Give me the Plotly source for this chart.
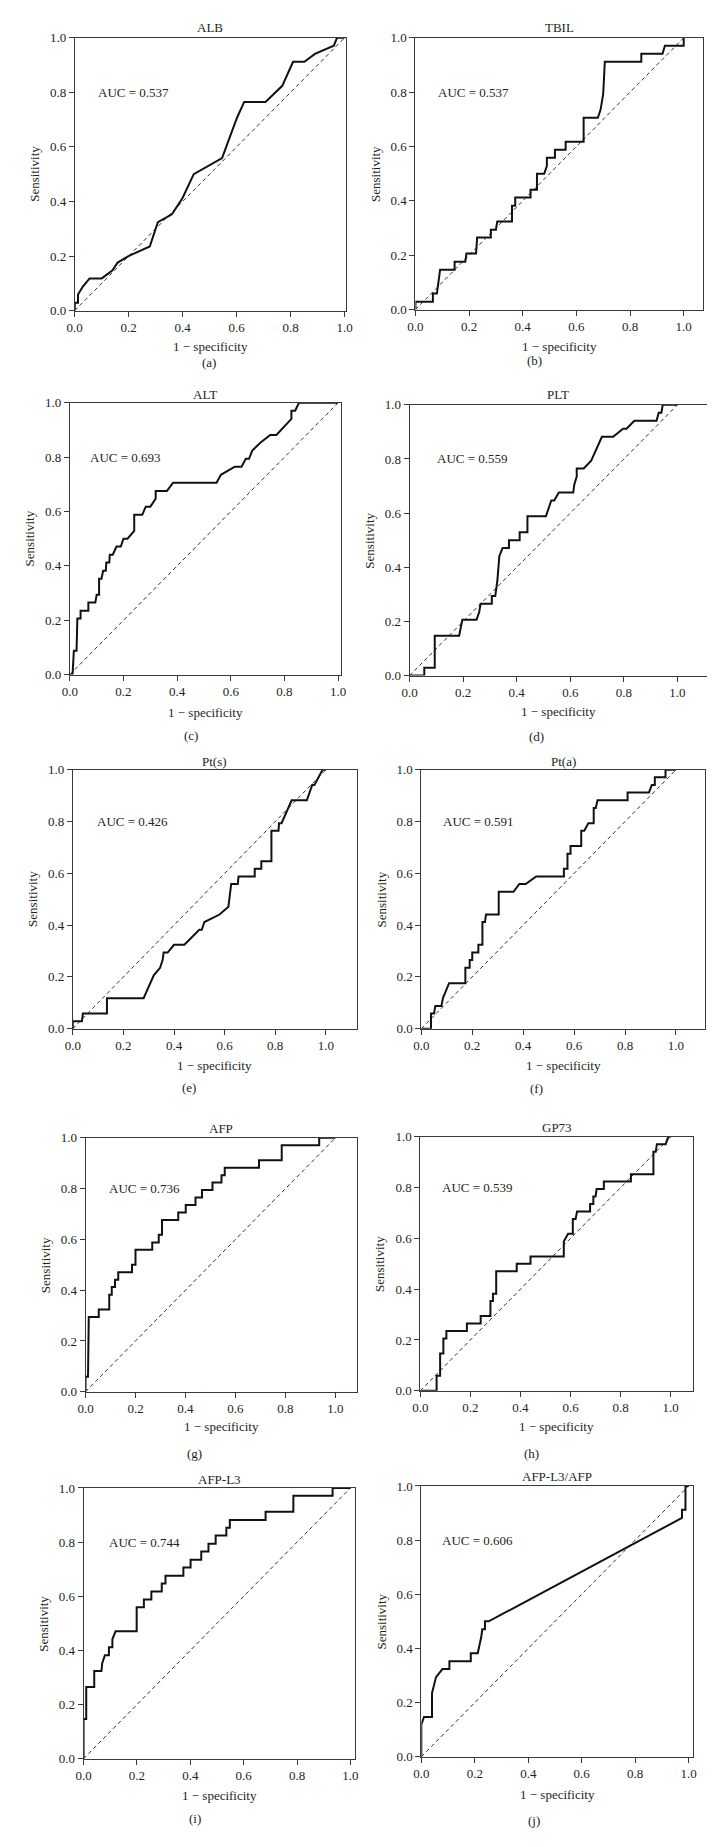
import plotly.graph_objects as go

# ---------------------------------------------------------------------------
# Data
# ---------------------------------------------------------------------------

TITLES = ["ALB", "TBIL", "ALT", "PLT", "Pt(s)", "Pt(a)", "AFP", "GP73", "AFP-L3", "AFP-L3/AFP"]
TAGS = ["(a)", "(b)", "(c)", "(d)", "(e)", "(f)", "(g)", "(h)", "(i)", "(j)"]
AUC = [0.537, 0.537, 0.693, 0.559, 0.426, 0.591, 0.736, 0.539, 0.744, 0.606]
TICKS = [0.0, 0.2, 0.4, 0.6, 0.8, 1.0]
TICK_TEXT = ["0.0", "0.2", "0.4", "0.6", "0.8", "1.0"]

ALB_FPR = [0, 0, 0.012, 0.012, 0.03, 0.055, 0.1, 0.139, 0.159, 0.199, 0.278, 0.308, 0.36,
           0.399, 0.441, 0.546, 0.601, 0.628, 0.707, 0.769, 0.809, 0.851, 0.89, 0.96, 0.972, 1.0]
ALB_TPR = [0, 0.029, 0.029, 0.059, 0.088, 0.118, 0.118, 0.147, 0.176, 0.2, 0.235, 0.324, 0.353,
           0.412, 0.5, 0.559, 0.706, 0.765, 0.765, 0.824, 0.912, 0.912, 0.941, 0.971, 1.0, 1.0]

TBIL_FPR = [0, 0, 0.065, 0.065, 0.08, 0.092, 0.146, 0.146, 0.186, 0.19, 0.226, 0.23, 0.281, 0.281,
            0.3, 0.305, 0.36, 0.36, 0.372, 0.372, 0.429, 0.429, 0.453, 0.453, 0.48, 0.49, 0.49,
            0.52, 0.52, 0.56, 0.56, 0.627, 0.627, 0.68, 0.69, 0.695, 0.7, 0.706, 0.842, 0.842,
            0.921, 0.93, 1.0, 1.0]
TBIL_TPR = [0, 0.029, 0.029, 0.059, 0.059, 0.147, 0.147, 0.176, 0.176, 0.206, 0.206, 0.265, 0.265,
            0.294, 0.294, 0.324, 0.324, 0.382, 0.382, 0.412, 0.412, 0.441, 0.441, 0.5, 0.5, 0.529,
            0.559, 0.559, 0.588, 0.588, 0.618, 0.618, 0.706, 0.706, 0.735, 0.765, 0.794, 0.912,
            0.912, 0.941, 0.941, 0.971, 0.971, 1.0]

ALT_FPR = [0, 0.01, 0.015, 0.025, 0.028, 0.04, 0.04, 0.069, 0.069, 0.095, 0.1, 0.109, 0.109, 0.118,
           0.124, 0.134, 0.136, 0.147, 0.149, 0.16, 0.174, 0.19, 0.2, 0.215, 0.24, 0.24, 0.27, 0.283,
           0.3, 0.32, 0.32, 0.362, 0.385, 0.547, 0.563, 0.6, 0.615, 0.64, 0.656, 0.668, 0.68, 0.71,
           0.747, 0.77, 0.8, 0.826, 0.826, 0.84, 0.854, 1.0]
ALT_TPR = [0, 0, 0.088, 0.088, 0.206, 0.206, 0.235, 0.235, 0.265, 0.265, 0.294, 0.294, 0.353, 0.353,
           0.382, 0.382, 0.412, 0.412, 0.441, 0.441, 0.471, 0.471, 0.5, 0.5, 0.529, 0.588, 0.588,
           0.618, 0.618, 0.647, 0.676, 0.676, 0.706, 0.706, 0.735, 0.757, 0.765, 0.765, 0.794,
           0.794, 0.824, 0.853, 0.882, 0.882, 0.912, 0.941, 0.971, 0.971, 1.0, 1.0]

PLT_FPR = [0, 0.055, 0.055, 0.094, 0.094, 0.185, 0.197, 0.25, 0.26, 0.265, 0.307, 0.307, 0.32,
           0.328, 0.335, 0.347, 0.371, 0.371, 0.411, 0.411, 0.44, 0.44, 0.509, 0.529, 0.54, 0.557,
           0.611, 0.615, 0.624, 0.624, 0.65, 0.678, 0.718, 0.76, 0.797, 0.81, 0.839, 0.922, 0.93,
           0.94, 0.945, 1.0]
PLT_TPR = [0, 0, 0.029, 0.029, 0.147, 0.147, 0.206, 0.206, 0.235, 0.265, 0.265, 0.294, 0.294,
           0.353, 0.441, 0.471, 0.471, 0.5, 0.5, 0.529, 0.529, 0.588, 0.588, 0.647, 0.647, 0.676,
           0.676, 0.706, 0.735, 0.765, 0.765, 0.794, 0.882, 0.882, 0.912, 0.912, 0.941, 0.941,
           0.971, 0.971, 1.0, 1.0]

PTS_FPR = [0, 0, 0.036, 0.04, 0.135, 0.135, 0.28, 0.32, 0.345, 0.355, 0.359, 0.375, 0.4, 0.441,
           0.5, 0.51, 0.52, 0.58, 0.615, 0.626, 0.652, 0.655, 0.719, 0.719, 0.745, 0.745, 0.785,
           0.785, 0.813, 0.815, 0.825, 0.865, 0.925, 0.946, 0.955, 0.987, 1.0]
PTS_TPR = [0, 0.029, 0.029, 0.059, 0.059, 0.118, 0.118, 0.206, 0.235, 0.265, 0.294, 0.294, 0.324,
           0.324, 0.382, 0.382, 0.412, 0.441, 0.471, 0.559, 0.559, 0.588, 0.588, 0.618, 0.618,
           0.647, 0.647, 0.765, 0.765, 0.794, 0.794, 0.882, 0.882, 0.941, 0.941, 1.0, 1.0]

PTA_FPR = [0, 0.038, 0.038, 0.05, 0.055, 0.079, 0.085, 0.109, 0.173, 0.173, 0.19, 0.19, 0.2, 0.2,
           0.224, 0.224, 0.24, 0.24, 0.25, 0.254, 0.304, 0.304, 0.362, 0.385, 0.41, 0.451, 0.56,
           0.56, 0.574, 0.574, 0.586, 0.586, 0.628, 0.628, 0.64, 0.656, 0.677, 0.677, 0.685, 0.692,
           0.81, 0.81, 0.894, 0.905, 0.917, 0.917, 0.959, 0.959, 1.0]
PTA_TPR = [0, 0, 0.059, 0.059, 0.088, 0.088, 0.118, 0.176, 0.176, 0.235, 0.235, 0.265, 0.265,
           0.294, 0.294, 0.324, 0.324, 0.412, 0.412, 0.441, 0.441, 0.529, 0.529, 0.559, 0.559,
           0.588, 0.588, 0.618, 0.618, 0.676, 0.676, 0.706, 0.706, 0.765, 0.765, 0.794, 0.794,
           0.853, 0.853, 0.882, 0.882, 0.912, 0.912, 0.941, 0.941, 0.971, 0.971, 1.0, 1.0]

AFP_FPR = [0, 0, 0.01, 0.013, 0.053, 0.053, 0.095, 0.095, 0.105, 0.105, 0.118, 0.118, 0.131, 0.131,
           0.186, 0.186, 0.2, 0.2, 0.267, 0.267, 0.293, 0.293, 0.306, 0.306, 0.371, 0.371, 0.401,
           0.401, 0.44, 0.44, 0.466, 0.466, 0.508, 0.508, 0.544, 0.544, 0.557, 0.557, 0.694, 0.694,
           0.785, 0.785, 0.935, 0.935, 1.0]
AFP_TPR = [0, 0.059, 0.059, 0.294, 0.294, 0.324, 0.324, 0.382, 0.382, 0.412, 0.412, 0.441, 0.441,
           0.471, 0.471, 0.5, 0.5, 0.559, 0.559, 0.588, 0.588, 0.618, 0.618, 0.676, 0.676, 0.706,
           0.706, 0.735, 0.735, 0.765, 0.765, 0.794, 0.794, 0.824, 0.824, 0.853, 0.853, 0.882,
           0.882, 0.912, 0.912, 0.971, 0.971, 1.0, 1.0]

GP73_FPR = [0, 0.065, 0.065, 0.079, 0.079, 0.092, 0.092, 0.104, 0.104, 0.186, 0.186, 0.241, 0.241,
            0.28, 0.28, 0.29, 0.29, 0.303, 0.303, 0.385, 0.385, 0.44, 0.44, 0.573, 0.573, 0.59,
            0.609, 0.609, 0.62, 0.626, 0.678, 0.678, 0.691, 0.691, 0.7, 0.704, 0.733, 0.733, 0.841,
            0.841, 0.931, 0.931, 0.94, 0.945, 0.98, 0.99, 1.0]
GP73_TPR = [0, 0, 0.059, 0.059, 0.147, 0.147, 0.206, 0.206, 0.235, 0.235, 0.265, 0.265, 0.294,
            0.294, 0.353, 0.353, 0.382, 0.382, 0.471, 0.471, 0.5, 0.5, 0.529, 0.529, 0.588, 0.618,
            0.618, 0.676, 0.676, 0.706, 0.706, 0.735, 0.735, 0.765, 0.765, 0.794, 0.794, 0.824,
            0.824, 0.853, 0.853, 0.941, 0.941, 0.971, 0.971, 1.0, 1.0]

AFPL3_FPR = [0, 0, 0.01, 0.01, 0.04, 0.04, 0.067, 0.07, 0.08, 0.095, 0.095, 0.108, 0.108, 0.12,
             0.199, 0.199, 0.226, 0.226, 0.254, 0.254, 0.293, 0.293, 0.307, 0.307, 0.374, 0.374,
             0.401, 0.401, 0.441, 0.441, 0.468, 0.468, 0.495, 0.495, 0.535, 0.535, 0.548, 0.548,
             0.682, 0.682, 0.786, 0.786, 0.933, 0.933, 1.0]
AFPL3_TPR = [0, 0.147, 0.147, 0.265, 0.265, 0.324, 0.324, 0.353, 0.382, 0.382, 0.412, 0.412, 0.441,
             0.471, 0.471, 0.559, 0.559, 0.588, 0.588, 0.618, 0.618, 0.647, 0.647, 0.676, 0.676,
             0.706, 0.706, 0.735, 0.735, 0.765, 0.765, 0.794, 0.794, 0.824, 0.824, 0.853, 0.853,
             0.882, 0.882, 0.912, 0.912, 0.971, 0.971, 1.0, 1.0]

RATIO_FPR = [0, 0, 0.01, 0.04, 0.04, 0.055, 0.079, 0.105, 0.105, 0.185, 0.185, 0.211, 0.224, 0.228,
             0.238, 0.238, 0.252, 0.975, 0.975, 0.988, 0.988, 1.0]
RATIO_TPR = [0, 0.118, 0.147, 0.147, 0.235, 0.294, 0.324, 0.324, 0.353, 0.353, 0.382, 0.382, 0.441,
             0.471, 0.471, 0.5, 0.5, 0.882, 0.912, 0.912, 1.0, 1.0]

CURVES = [
    (ALB_FPR, ALB_TPR), (TBIL_FPR, TBIL_TPR), (ALT_FPR, ALT_TPR), (PLT_FPR, PLT_TPR),
    (PTS_FPR, PTS_TPR), (PTA_FPR, PTA_TPR), (AFP_FPR, AFP_TPR), (GP73_FPR, GP73_TPR),
    (AFPL3_FPR, AFPL3_TPR), (RATIO_FPR, RATIO_TPR),
]

# ---------------------------------------------------------------------------
# Panel geometry in page pixels: left, right, top, bottom, x max,
# title y, x-label y, tag x, tag y, AUC text x (data)
# ---------------------------------------------------------------------------

W, H = 715, 1847
PANELS = [
    (60, 337, 23, 298, 1.005, 13, 334, 197, 350, 0.080),
    (408, 702, 23, 297, 1.073, 13, 334, 530, 348, 0.077),
    (55, 332, 391, 665, 1.011, 383, 703, 179, 726, 0.067),
    (402, 706, 393, 666, 1.111, 383, 702, 532, 727, 0.094),
    (58, 348, 761, 1022, 1.122, 753, 1059, 177, 1081, 0.086),
    (414, 704, 761, 1022, 1.115, 753, 1059, 532, 1082, 0.077),
    (71, 348, 1132, 1388, 1.085, 1123, 1423, 182, 1450, 0.086),
    (413, 692, 1131, 1387, 1.091, 1122, 1423, 527, 1450, 0.079),
    (69, 346, 1485, 1758, 1.016, 1476, 1795, 183, 1818, 0.089),
    (414, 692, 1483, 1756, 1.018, 1473, 1794, 529, 1820, 0.071),
]

FONT = "Liberation Serif, Times New Roman, DejaVu Serif, serif"
TEXT = "#231f20"
AXIS = "#3a3a3a"


def px(x):
    return x / W


def py(y):
    return 1 - y / H


fig = go.Figure()
annotations = []
layout = {}

for i, (geo, (fpr, tpr)) in enumerate(zip(PANELS, CURVES)):
    left, right, top, bottom, xmax, t_y, xl_y, tag_x, tag_y, auc_x = geo
    n = i + 1
    xref = "x" if n == 1 else f"x{n}"
    yref = "y" if n == 1 else f"y{n}"

    # chance diagonal
    fig.add_trace(go.Scatter(
        x=[0, 1], y=[0, 1], xaxis=xref, yaxis=yref, mode="lines",
        line=dict(color="#333333", width=1, dash="4px,3px"), hoverinfo="skip",
    ))
    # ROC curve
    fig.add_trace(go.Scatter(
        x=fpr, y=tpr, xaxis=xref, yaxis=yref, mode="lines",
        line=dict(color="#111111", width=2),
    ))

    axis_common = dict(
        showline=True, mirror=True, linecolor=AXIS, linewidth=1,
        ticks="outside", ticklen=5, tickcolor=AXIS, tickwidth=1,
        showgrid=False, zeroline=False, fixedrange=True,
        tickvals=TICKS, ticktext=TICK_TEXT,
        tickfont=dict(family=FONT, size=13, color=TEXT),
    )
    layout["xaxis" if n == 1 else f"xaxis{n}"] = dict(
        axis_common, domain=[px(left), px(right)], range=[0, xmax], anchor=yref,
    )
    layout["yaxis" if n == 1 else f"yaxis{n}"] = dict(
        axis_common, domain=[py(bottom), py(top)], range=[0, 1], anchor=xref,
    )

    cx = (left + right) / 2
    cy = (top + bottom) / 2
    txt = dict(family=FONT, size=13, color=TEXT)
    annotations += [
        dict(text=TITLES[i], x=px(cx), y=py(t_y), xref="paper", yref="paper",
             xanchor="center", yanchor="middle", showarrow=False, font=txt),
        dict(text=f"AUC = {AUC[i]:.3f}", x=auc_x, y=0.8, xref=xref, yref=yref,
             xanchor="left", yanchor="middle", showarrow=False, font=txt),
        dict(text="1 \u2212 specificity", x=px(cx), y=py(xl_y), xref="paper", yref="paper",
             xanchor="center", yanchor="middle", showarrow=False, font=txt),
        dict(text="Sensitivity", x=px(left - 41), y=py(cy), xref="paper", yref="paper",
             xanchor="center", yanchor="middle", textangle=-90, showarrow=False, font=txt),
        dict(text=TAGS[i], x=px(tag_x), y=py(tag_y), xref="paper", yref="paper",
             xanchor="center", yanchor="middle", showarrow=False, font=txt),
    ]

fig.update_layout(
    width=W,
    height=H,
    margin=dict(l=0, r=0, t=0, b=0),
    paper_bgcolor="white",
    plot_bgcolor="white",
    showlegend=False,
    annotations=annotations,
    **layout,
)

fig.write_html("out.html")
